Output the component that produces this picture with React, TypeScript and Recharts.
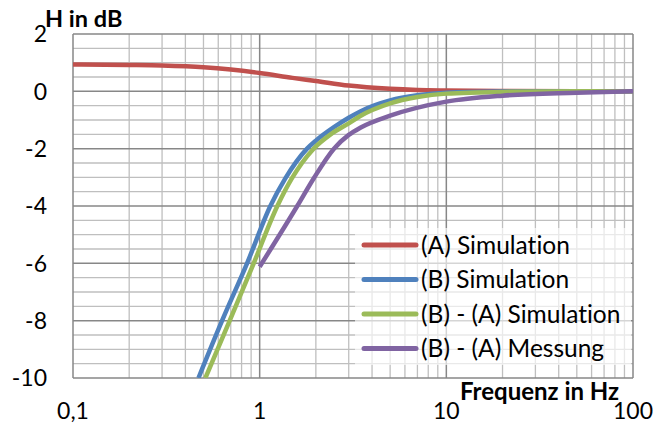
import React from 'react';
import { LineChart, Line, XAxis, YAxis, CartesianGrid } from 'recharts';

const seriesA = [
  { f: 0.1, v: 0.94 }, { f: 0.2, v: 0.92 }, { f: 0.3, v: 0.9 }, { f: 0.5, v: 0.84 },
  { f: 0.7, v: 0.76 }, { f: 1, v: 0.64 }, { f: 1.5, v: 0.47 }, { f: 2, v: 0.36 },
  { f: 3, v: 0.2 }, { f: 5, v: 0.09 }, { f: 7, v: 0.05 }, { f: 10, v: 0.03 },
  { f: 20, v: 0.01 }, { f: 50, v: 0 }, { f: 100, v: 0 },
];
const seriesB = [
  { f: 0.47, v: -10 }, { f: 0.629, v: -8 }, { f: 0.856, v: -6 }, { f: 1.141, v: -4 },
  { f: 1.375, v: -3.03 }, { f: 1.795, v: -2 }, { f: 2, v: -1.72 }, { f: 2.5, v: -1.25 },
  { f: 3, v: -0.92 }, { f: 3.46, v: -0.7 }, { f: 5, v: -0.32 }, { f: 7, v: -0.14 },
  { f: 10, v: -0.05 }, { f: 20, v: -0.01 }, { f: 50, v: 0 }, { f: 100, v: 0 },
];
const seriesBA = [
  { f: 0.512, v: -10 }, { f: 0.691, v: -8 }, { f: 0.929, v: -6 }, { f: 1.244, v: -4 },
  { f: 1.49, v: -3.03 }, { f: 1.946, v: -2 }, { f: 2.4, v: -1.5 }, { f: 3, v: -1.12 },
  { f: 3.46, v: -0.86 }, { f: 5, v: -0.42 }, { f: 7, v: -0.2 }, { f: 10, v: -0.08 },
  { f: 20, v: -0.02 }, { f: 50, v: 0 }, { f: 100, v: 0 },
];
const seriesMess = [
  { f: 1, v: -6.12 }, { f: 1.59, v: -4 }, { f: 1.95, v: -3.03 }, { f: 2.5, v: -2.0 },
  { f: 3, v: -1.52 }, { f: 3.46, v: -1.27 }, { f: 5, v: -0.85 }, { f: 10, v: -0.36 },
  { f: 20, v: -0.15 }, { f: 50, v: -0.05 }, { f: 100, v: 0 },
];

const xTicks = [0.1, 1, 10, 100];
const yTicks = [-10, -8, -6, -4, -2, 0, 2];
const xMinor = [0.2, 0.3, 0.4, 0.5, 0.6, 0.7, 0.8, 0.9, 2, 3, 4, 5, 6, 7, 8, 9, 20, 30, 40, 50, 60, 70, 80, 90];
const xMajor = [0.1, 1, 10, 100];
const yMinor = [-9.5, -9, -8.5, -7.5, -7, -6.5, -5.5, -5, -4.5, -3.5, -3, -2.5, -1.5, -1, -0.5, 0.5, 1, 1.5];
const yMajor = [-10, -8, -6, -4, -2, 0, 2];

const legendItems = [
  { name: '(A) Simulation', color: '#C0504D' },
  { name: '(B) Simulation', color: '#4F81BD' },
  { name: '(B) - (A) Simulation', color: '#9BBB59' },
  { name: '(B) - (A) Messung', color: '#8064A2' },
];

const FONT = 'Lato, "Open Sans", sans-serif';
const noLig = { fontVariantLigatures: 'none' as const };

const XTick = (props: any) => {
  const { x, payload } = props;
  return (
    <text x={x} y={418.5} textAnchor="middle" fontFamily={FONT} fontSize={23} fill="#000" style={noLig}>
      {String(payload.value).replace('.', ',')}
    </text>
  );
};
const YTick = (props: any) => {
  const { y, payload } = props;
  return (
    <text x={47} y={y + 8.3} textAnchor="end" fontFamily={FONT} fontSize={23} fill="#000" style={noLig}>
      {payload.value}
    </text>
  );
};

export default function App() {
  return (
    <div style={{ position: 'absolute', left: 0, top: 0, width: 667, height: 423, background: '#fff' }}>
      <LineChart width={667} height={423} margin={{ top: 34, right: 34, left: 13, bottom: 15 }}>
        <CartesianGrid stroke="#BFBFBF" strokeWidth={1.3} verticalValues={xMinor} horizontalValues={yMinor} />
        <CartesianGrid stroke="#878787" strokeWidth={1.5} verticalValues={xMajor} horizontalValues={yMajor} />
        <XAxis
          type="number"
          dataKey="f"
          scale="log"
          domain={[0.1, 100]}
          ticks={xTicks}
          allowDataOverflow
          axisLine={false}
          tickLine={false}
          height={30}
          tick={<XTick />}
          interval={0}
        />
        <YAxis
          type="number"
          dataKey="v"
          domain={[-10, 2]}
          ticks={yTicks}
          allowDataOverflow
          axisLine={false}
          tickLine={false}
          width={60}
          tick={<YTick />}
          interval={0}
        />
        <Line data={seriesA} dataKey="v" name="(A) Simulation" type="monotone" stroke="#C0504D" strokeWidth={4.5} dot={false} isAnimationActive={false} />
        <Line data={seriesB} dataKey="v" name="(B) Simulation" type="monotone" stroke="#4F81BD" strokeWidth={4.5} dot={false} isAnimationActive={false} />
        <Line data={seriesBA} dataKey="v" name="(B) - (A) Simulation" type="monotone" stroke="#9BBB59" strokeWidth={4.5} dot={false} isAnimationActive={false} />
        <Line data={seriesMess} dataKey="v" name="(B) - (A) Messung" type="monotone" stroke="#8064A2" strokeWidth={4.5} dot={false} isAnimationActive={false} />
      </LineChart>
      <svg width={667} height={423} style={{ position: 'absolute', left: 0, top: 0, pointerEvents: 'none' }}>
        <rect x={355} y={228} width={276} height={137} fill="#fff" fillOpacity={0.65} />
        {legendItems.map((it, i) => {
          const cy = 245 + i * 34.5;
          return (
            <g key={it.name}>
              <line x1={364} x2={416} y1={cy} y2={cy} stroke={it.color} strokeWidth={5} strokeLinecap="round" />
              <text x={421} y={cy + 8.5} fontFamily={FONT} fontSize={24.5} fill="#000" style={noLig}>{it.name}</text>
            </g>
          );
        })}
        <text x={45} y={27} fontFamily={FONT} fontWeight={700} fontSize={23.5} fill="#000" style={noLig}>H in dB</text>
        <text x={460} y={399.5} fontFamily={FONT} fontWeight={700} fontSize={24} fill="#000" style={noLig}>Frequenz in Hz</text>
      </svg>
    </div>
  );
}
